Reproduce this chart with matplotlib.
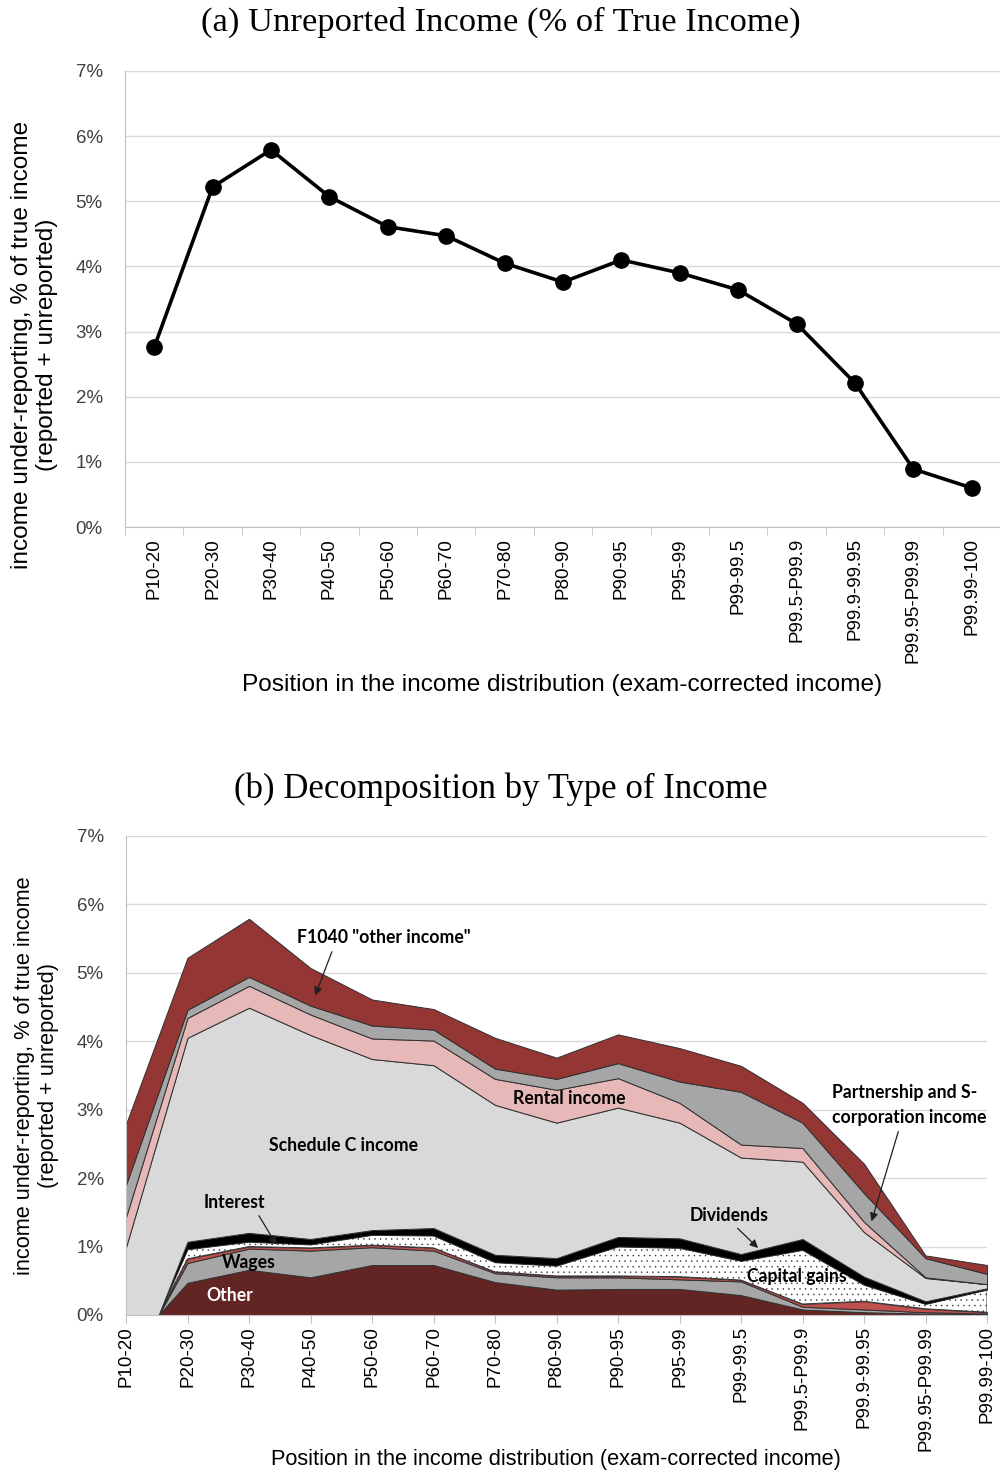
import numpy as np
import matplotlib
matplotlib.use("Agg")
import matplotlib.pyplot as plt
from matplotlib.ticker import FuncFormatter, FixedLocator

plt.rcParams["font.family"] = ["Liberation Sans", "DejaVu Sans"]
plt.rcParams["hatch.color"] = "#555555"
plt.rcParams["hatch.linewidth"] = 0.3

categories = ["P10-20", "P20-30", "P30-40", "P40-50", "P50-60", "P60-70", "P70-80",
              "P80-90", "P90-95", "P95-99", "P99-99.5", "P99.5-P99.9", "P99.9-99.95",
              "P99.95-P99.99", "P99.99-100"]

# panel (a): total unreported income, % of true income
unreported = [2.76, 5.22, 5.79, 5.07, 4.61, 4.47, 4.05, 3.76, 4.10, 3.90, 3.64, 3.12, 2.21, 0.89, 0.60]

# panel (b): components, bottom to top (percentage points)
other = [-0.53, 0.47, 0.66, 0.55, 0.73, 0.73, 0.48, 0.37, 0.38, 0.38, 0.29, 0.08, 0.04, 0.02, 0.01]
wages = [-0.33, 0.29, 0.31, 0.39, 0.26, 0.21, 0.13, 0.18, 0.17, 0.14, 0.20, 0.04, 0.04, 0.02, 0.01]
interest = [-0.06, 0.06, 0.03, 0.04, 0.03, 0.04, 0.02, 0.02, 0.02, 0.04, 0.02, 0.04, 0.12, 0.05, 0.02]
capital_gains = [-0.16, 0.14, 0.07, 0.05, 0.15, 0.18, 0.14, 0.15, 0.43, 0.42, 0.28, 0.79, 0.24, 0.07, 0.33]
dividends = [-0.13, 0.11, 0.13, 0.08, 0.07, 0.11, 0.11, 0.11, 0.14, 0.14, 0.10, 0.16, 0.12, 0.04, 0.02]
schedule_c = [2.20, 2.98, 3.29, 2.98, 2.50, 2.38, 2.19, 1.98, 1.89, 1.69, 1.41, 1.13, 0.65, 0.34, 0.06]
rental = [0.44, 0.29, 0.32, 0.30, 0.30, 0.36, 0.38, 0.48, 0.43, 0.29, 0.19, 0.20, 0.15, 0.01, 0.00]
partnership = [0.47, 0.12, 0.13, 0.13, 0.19, 0.16, 0.15, 0.16, 0.22, 0.31, 0.77, 0.37, 0.42, 0.28, 0.15]
f1040_other = [0.89, 0.76, 0.85, 0.55, 0.38, 0.30, 0.45, 0.31, 0.42, 0.49, 0.38, 0.29, 0.43, 0.04, 0.13]

layers = [other, wages, interest, capital_gains, dividends, schedule_c, rental, partnership, f1040_other]
layer_colors = ["#632523", "#a6a6a6", "#c0504d", "#ffffff", "#000000",
                "#d9d9d9", "#e6b8b7", "#a6a6a6", "#943634"]

pct = FuncFormatter(lambda v, _: f"{v:.0f}%")
tick_fs = 13.5
title_font = ["Liberation Serif", "DejaVu Serif"]
note_font = ["Lato", "DejaVu Sans"]
ylab = "income under-reporting, % of true income\n(reported + unreported)"
xlab = "Position in the income distribution (exam-corrected income)"


def style_axes(ax):
    ax.set_ylim(0, 7)
    ax.yaxis.set_major_formatter(pct)
    ax.set_yticks(range(8))
    ax.tick_params(axis="y", length=0, labelsize=tick_fs, pad=16, colors="#404040")
    ax.grid(axis="y", color="#d9d9d9", lw=1)
    ax.set_axisbelow(True)
    for s in ["top", "right"]:
        ax.spines[s].set_visible(False)
    for s in ["left", "bottom"]:
        ax.spines[s].set_color("#bfbfbf")


fig = plt.figure(figsize=(10, 14.73), dpi=100)

# ---------------- panel (a)
ax1 = fig.add_axes([0.125, 0.6422, 0.876, 0.3096])
x = np.arange(len(categories))
ax1.plot(x, unreported, color="black", lw=2.6, marker="o", ms=11, zorder=3)
ax1.set_xlim(-0.5, len(categories) - 0.5)
style_axes(ax1)
ax1.set_xticks(x)
ax1.set_xticklabels(categories, rotation=90, fontsize=tick_fs)
ax1.xaxis.set_minor_locator(FixedLocator(np.arange(-0.5, len(categories), 1.0)))
ax1.tick_params(axis="x", which="major", length=0, pad=8)
ax1.tick_params(axis="x", which="minor", length=6, color="#bfbfbf")
ax1.set_ylabel(ylab, fontsize=17.6)
ax1.yaxis.set_label_coords(-0.076, 0.40)
fig.text(0.562, (1473 - 685) / 1473, xlab, ha="center", va="center", fontsize=17.6)
fig.text(0.501, 0.985, "(a) Unreported Income (% of True Income)", ha="center", va="center",
         fontsize=24.8, family=title_font)

# ---------------- panel (b)
ax2 = fig.add_axes([0.126, 0.1073, 0.861, 0.3252])
polys = ax2.stackplot(x, *layers, colors=layer_colors, edgecolor="#303030", linewidth=0.7)
polys[3].set_hatch("...")
ax2.set_xlim(0, len(categories) - 1)
style_axes(ax2)
ax2.set_xticks(x)
ax2.set_xticklabels(categories, rotation=90, fontsize=tick_fs)
ax2.tick_params(axis="x", length=6, color="#bfbfbf", pad=2)
ax2.set_ylabel(ylab, fontsize=15.7)
ax2.yaxis.set_label_coords(-0.078, 0.5)
fig.text(0.556, (1473 - 1460) / 1473, xlab, ha="center", va="center", fontsize=15.7)
fig.text(0.501, 0.4645, "(b) Decomposition by Type of Income", ha="center", va="center",
         fontsize=25, family=title_font)

note = dict(fontsize=12.7, fontweight="bold", family=note_font, ha="center", va="center")
arrow = dict(arrowstyle="-|>", color="#202020", lw=0.9, mutation_scale=12)

ax2.annotate('F1040 "other income"', xy=(3.06, 4.63), xytext=(4.20, 5.51),
             arrowprops=dict(arrow, relpos=(0.21, 0.0)), **note)
ax2.text(7.20, 3.16, "Rental income", **note)
ax2.text(3.53, 2.47, "Schedule C income", **note)
ax2.annotate("Partnership and S-\ncorporation income", xy=(12.11, 1.33), xytext=(11.48, 3.07),
             arrowprops=dict(arrow, relpos=(0.44, 0.0)),
             fontsize=12.7, fontweight="bold", family=note_font, ha="left", va="center",
             linespacing=1.6)
ax2.annotate("Interest", xy=(2.47, 0.99), xytext=(1.76, 1.65),
             arrowprops=dict(arrow, relpos=(0.85, 0.0)), **note)
ax2.annotate("Dividends", xy=(10.31, 0.95), xytext=(9.80, 1.46),
             arrowprops=dict(arrow, relpos=(0.55, 0.0)), **note)
ax2.text(2.0, 0.76, "Wages", **note)
ax2.text(1.69, 0.29, "Other", color="white", **note)
ax2.text(10.91, 0.56, "Capital gains", **note)

fig.savefig("out.png", dpi=100)
